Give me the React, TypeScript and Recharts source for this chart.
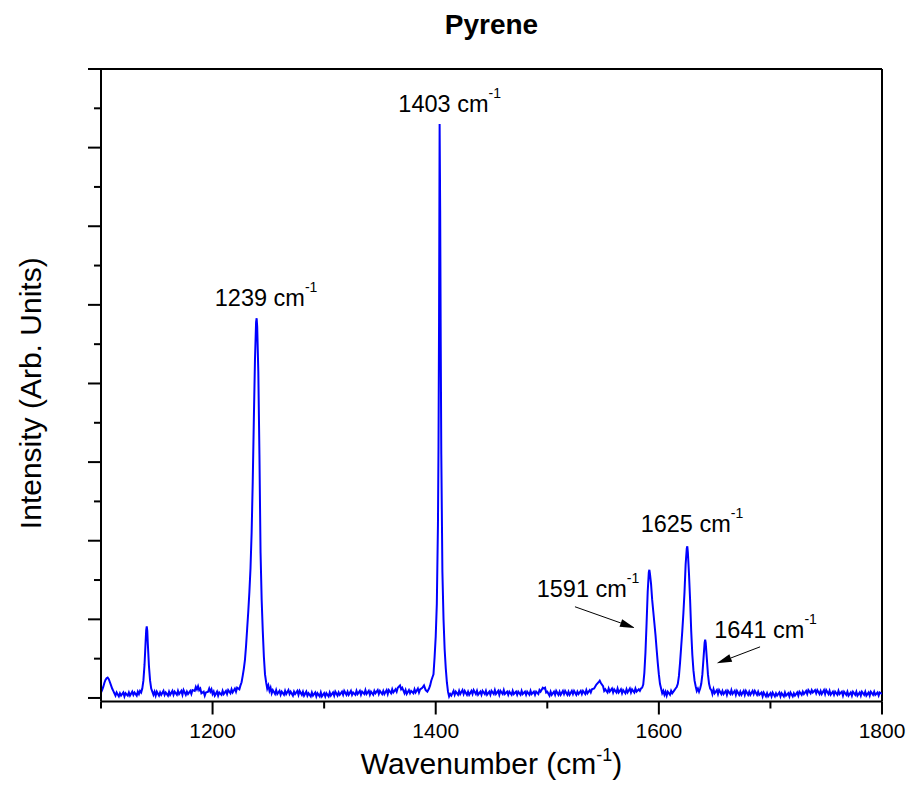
import { LineChart, Line, XAxis, YAxis, ReferenceLine, ReferenceDot } from 'recharts'

const FONT = '"Liberation Sans", Arial, sans-serif'

// axis ticks
const xTicks = [1100, 1200, 1300, 1400, 1500, 1600, 1700, 1800]
const xTickLabels = [1200, 1400, 1600, 1800]
const yTicks = [0, 0.5, 1, 1.5, 2, 2.5, 3, 3.5, 4, 4.5, 5, 5.5, 6, 6.5, 7, 7.5, 8]
const yMajorTicks = [0, 1, 2, 3, 4, 5, 6, 7, 8]

// Raman spectrum: [wavenumber, intensity]
const spectrum: [number, number][] = [
  // start + small band ~1106
  [1100, 0.07], [1101, 0.1], [1102, 0.14], [1103, 0.19], [1104, 0.23], [1105, 0.25], [1106, 0.26],
  [1107, 0.24], [1108, 0.2], [1109, 0.16], [1110, 0.12], [1111, 0.09], [1112, 0.06], [1113, 0.03],
  [1114, 0.07], [1116, 0.02], [1117, 0.06], [1118, 0.03], [1120, 0.07], [1121, 0.02], [1122, 0.06],
  [1124, 0.03], [1125, 0.07], [1126, 0.03], [1128, 0.08], [1129, 0.04], [1130, 0.07], [1132, 0.03],
  [1133, 0.08], [1134, 0.05], [1135, 0.09], [1136, 0.07],
  // 1141 band
  [1137, 0.12], [1138, 0.22], [1139, 0.42], [1140, 0.72], [1140.5, 0.86], [1141, 0.91], [1141.5, 0.85],
  [1142, 0.68], [1143, 0.4], [1144, 0.22], [1145, 0.12], [1146, 0.08], [1147, 0.04],
  [1148, 0.08], [1149, 0.03], [1150, 0.08], [1152, 0.03], [1153, 0.07], [1154, 0.04], [1156, 0.09],
  [1157, 0.04], [1158, 0.07], [1160, 0.03], [1161, 0.08], [1162, 0.04], [1164, 0.09], [1165, 0.04],
  [1166, 0.08], [1168, 0.04], [1169, 0.09], [1170, 0.05], [1172, 0.09], [1173, 0.04], [1174, 0.1],
  [1176, 0.04], [1177, 0.08], [1178, 0.05], [1180, 0.09], [1181, 0.05], [1182, 0.1], [1184, 0.09],
  [1185, 0.14], [1186, 0.11], [1187, 0.15], [1188, 0.1], [1189, 0.12], [1190, 0.06], [1192, 0.08],
  [1193, 0.03], [1194, 0.07], [1196, 0.08], [1197, 0.12], [1198, 0.08], [1199, 0.11], [1200, 0.05],
  [1201, 0.08], [1202, 0.03], [1204, 0.08], [1205, 0.03], [1206, 0.07], [1208, 0.04], [1209, 0.09],
  [1210, 0.05], [1212, 0.09], [1213, 0.05], [1214, 0.1], [1216, 0.06], [1217, 0.11], [1218, 0.07],
  [1220, 0.12], [1221, 0.08], [1222, 0.13], [1224, 0.11],
  // 1239 band
  [1225, 0.16], [1226, 0.2], [1227, 0.28], [1228, 0.37], [1229, 0.48], [1230, 0.66], [1231, 0.88],
  [1232, 1.1], [1233, 1.35], [1234, 1.65], [1235, 2.1], [1236, 2.75], [1237, 3.55], [1238, 4.3],
  [1239, 4.78], [1239.5, 4.83], [1240, 4.72], [1241, 4.15], [1242, 3.1], [1243, 1.85], [1244, 1.25],
  [1245, 0.85], [1246, 0.52], [1247, 0.3], [1248, 0.2], [1249, 0.12], [1250, 0.16], [1251, 0.09],
  [1252, 0.13], [1253, 0.06], [1254, 0.1], [1256, 0.05], [1257, 0.1], [1258, 0.05], [1260, 0.09],
  [1261, 0.04], [1262, 0.08], [1264, 0.04], [1265, 0.09], [1266, 0.05], [1268, 0.1], [1269, 0.05],
  [1270, 0.08], [1272, 0.03], [1273, 0.08], [1274, 0.05], [1276, 0.09], [1277, 0.04], [1278, 0.09],
  [1280, 0.04], [1281, 0.08], [1282, 0.03], [1284, 0.08], [1285, 0.03], [1286, 0.06], [1288, 0.02],
  [1289, 0.07], [1290, 0.03], [1292, 0.07], [1293, 0.02], [1294, 0.06], [1296, 0.02], [1297, 0.07],
  [1298, 0.02], [1300, 0.06], [1301, 0.02], [1302, 0.06], [1304, 0.02], [1305, 0.07], [1306, 0.03],
  [1308, 0.07], [1309, 0.03], [1310, 0.08], [1312, 0.03], [1313, 0.07], [1314, 0.04], [1316, 0.08],
  [1317, 0.04], [1318, 0.09], [1320, 0.04], [1321, 0.08], [1322, 0.04], [1324, 0.09], [1325, 0.04],
  [1326, 0.07], [1328, 0.04], [1329, 0.09], [1330, 0.05], [1332, 0.09], [1333, 0.04], [1334, 0.08],
  [1336, 0.05], [1337, 0.1], [1338, 0.05], [1340, 0.09], [1341, 0.04], [1342, 0.08], [1344, 0.04],
  [1345, 0.09], [1346, 0.06], [1348, 0.1], [1349, 0.05], [1350, 0.09], [1352, 0.05], [1353, 0.09],
  [1354, 0.05], [1356, 0.1], [1357, 0.05], [1358, 0.1], [1360, 0.06], [1361, 0.11], [1362, 0.07],
  [1364, 0.11], [1365, 0.08], [1366, 0.13], [1368, 0.16], [1369, 0.11], [1370, 0.13], [1372, 0.06],
  [1373, 0.1], [1374, 0.05], [1376, 0.1], [1377, 0.06], [1378, 0.09], [1380, 0.06], [1381, 0.11],
  [1382, 0.07], [1384, 0.12], [1385, 0.07], [1386, 0.11], [1388, 0.13], [1389.5, 0.16], [1391, 0.1],
  [1392.5, 0.08],
  // 1403 band
  [1394, 0.12], [1395, 0.16], [1396, 0.22], [1397, 0.26], [1398, 0.3], [1399, 0.52], [1400, 0.78],
  [1401, 1.2], [1402, 2.2], [1402.5, 3.2], [1403, 4.8], [1403.5, 7.3], [1404, 6.2], [1404.5, 4.5],
  [1405, 3.1], [1406, 1.6], [1407, 1.0], [1408, 0.62], [1409, 0.38], [1410, 0.2], [1411, 0.08],
  [1412, 0.02], [1413, 0.05], [1414, 0.03],
  [1416, 0.09], [1417, 0.04], [1418, 0.08], [1420, 0.04], [1421, 0.09], [1422, 0.05], [1424, 0.1],
  [1425, 0.05], [1426, 0.09], [1428, 0.04], [1429, 0.08], [1430, 0.04], [1432, 0.09], [1433, 0.05],
  [1434, 0.1], [1436, 0.05], [1437, 0.09], [1438, 0.04], [1440, 0.08], [1441, 0.04], [1442, 0.09],
  [1444, 0.05], [1445, 0.09], [1446, 0.04], [1448, 0.08], [1449, 0.04], [1450, 0.09], [1452, 0.05],
  [1453, 0.1], [1454, 0.05], [1456, 0.09], [1457, 0.04], [1458, 0.09], [1460, 0.05], [1461, 0.1],
  [1462, 0.05], [1464, 0.08], [1465, 0.04], [1466, 0.08], [1468, 0.04], [1469, 0.09], [1470, 0.05],
  [1472, 0.08], [1473, 0.04], [1474, 0.08], [1476, 0.04], [1477, 0.09], [1478, 0.05], [1480, 0.08],
  [1481, 0.04], [1482, 0.08], [1484, 0.04], [1485, 0.09], [1486, 0.05], [1488, 0.08], [1489, 0.04],
  [1490, 0.08], [1492, 0.05], [1493, 0.1], [1494, 0.08], [1496, 0.13], [1497, 0.12], [1498, 0.13],
  [1499, 0.07], [1500, 0.08], [1502, 0.03], [1503, 0.08], [1504, 0.04], [1506, 0.08], [1507, 0.04],
  [1508, 0.09], [1510, 0.04], [1511, 0.08], [1512, 0.04], [1514, 0.09], [1515, 0.05], [1516, 0.09],
  [1518, 0.04], [1519, 0.08], [1520, 0.04], [1522, 0.09], [1523, 0.05], [1524, 0.09], [1526, 0.04],
  [1527, 0.08], [1528, 0.05], [1530, 0.09], [1531, 0.05], [1532, 0.09], [1534, 0.05], [1535, 0.1],
  [1536, 0.06], [1538, 0.1], [1539, 0.07], [1540, 0.11], [1542, 0.12], [1544, 0.17], [1546, 0.2],
  [1547, 0.22], [1548, 0.19], [1550, 0.15], [1551, 0.09], [1552, 0.11], [1554, 0.07], [1555, 0.12],
  [1556, 0.08], [1558, 0.12], [1559, 0.07], [1560, 0.11], [1562, 0.07], [1563, 0.12], [1564, 0.07],
  [1566, 0.11], [1567, 0.06], [1568, 0.1], [1570, 0.06], [1571, 0.11], [1572, 0.07], [1574, 0.12],
  [1575, 0.07], [1576, 0.11], [1578, 0.07], [1579, 0.12], [1580, 0.08], [1582, 0.11], [1583, 0.09],
  [1584, 0.12],
  // 1591 band
  [1585, 0.13], [1586, 0.17], [1587, 0.32], [1588, 0.58], [1589, 0.95], [1590, 1.35], [1591, 1.6],
  [1591.5, 1.63], [1592, 1.58], [1593, 1.45], [1594, 1.25], [1595, 1.1], [1596, 0.95], [1597, 0.8],
  [1598, 0.62], [1599, 0.45], [1600, 0.3], [1601, 0.18], [1602, 0.12], [1603, 0.06], [1604, 0.09],
  [1605, 0.04], [1606, 0.08], [1607, 0.03], [1608, 0.08], [1610, 0.04], [1611, 0.09], [1612, 0.06],
  [1614, 0.1],
  // 1625 band
  [1615, 0.12], [1616, 0.14], [1617, 0.18], [1618, 0.28], [1619, 0.45], [1620, 0.65], [1621, 0.85],
  [1622, 1.08], [1623, 1.35], [1624, 1.7], [1625, 1.9], [1625.5, 1.93], [1626, 1.85], [1627, 1.58],
  [1628, 1.25], [1629, 0.85], [1630, 0.55], [1631, 0.35], [1632, 0.22], [1633, 0.15], [1634, 0.09],
  [1635, 0.12], [1636, 0.08],
  // 1641 band
  [1637, 0.12], [1638, 0.18], [1639, 0.3], [1640, 0.5], [1641, 0.7], [1641.5, 0.74], [1642, 0.7],
  [1643, 0.5], [1644, 0.3], [1645, 0.18], [1646, 0.12], [1647, 0.1], [1648, 0.05],
  [1649, 0.11], [1650, 0.06], [1652, 0.1], [1653, 0.05], [1654, 0.1], [1656, 0.05], [1657, 0.09],
  [1658, 0.05], [1660, 0.09], [1661, 0.04], [1662, 0.09], [1664, 0.05], [1665, 0.1], [1666, 0.05],
  [1668, 0.09], [1669, 0.04], [1670, 0.09], [1672, 0.04], [1673, 0.08], [1674, 0.04], [1676, 0.09],
  [1677, 0.04], [1678, 0.09], [1680, 0.04], [1681, 0.08], [1682, 0.04], [1684, 0.09], [1685, 0.05],
  [1686, 0.09], [1688, 0.04], [1689, 0.08], [1690, 0.04], [1692, 0.07], [1693, 0.02], [1694, 0.07],
  [1696, 0.02], [1697, 0.06], [1698, 0.02], [1700, 0.06], [1701, 0.02], [1702, 0.07], [1704, 0.02],
  [1705, 0.06], [1706, 0.03], [1708, 0.07], [1709, 0.02], [1710, 0.06], [1712, 0.02], [1713, 0.07],
  [1714, 0.03], [1716, 0.06], [1717, 0.02], [1718, 0.07], [1720, 0.02], [1721, 0.06], [1722, 0.03],
  [1724, 0.07], [1725, 0.03], [1726, 0.08], [1728, 0.04], [1729, 0.08], [1730, 0.05], [1732, 0.09],
  [1733, 0.05], [1734, 0.1], [1736, 0.06], [1737, 0.1], [1738, 0.07], [1740, 0.1], [1741, 0.06],
  [1742, 0.1], [1744, 0.05], [1745, 0.09], [1746, 0.05], [1748, 0.1], [1749, 0.05], [1750, 0.1],
  [1752, 0.05], [1753, 0.09], [1754, 0.04], [1756, 0.08], [1757, 0.04], [1758, 0.08], [1760, 0.04],
  [1761, 0.09], [1762, 0.05], [1764, 0.08], [1765, 0.03], [1766, 0.08], [1768, 0.04], [1769, 0.08],
  [1770, 0.03], [1772, 0.07], [1773, 0.03], [1774, 0.08], [1776, 0.04], [1777, 0.08], [1778, 0.03],
  [1780, 0.07], [1781, 0.03], [1782, 0.08], [1784, 0.04], [1785, 0.08], [1786, 0.03], [1788, 0.07],
  [1789, 0.03], [1790, 0.08], [1792, 0.04], [1793, 0.08], [1794, 0.04], [1796, 0.07], [1797, 0.03],
  [1798, 0.07], [1800, 0.05],
]

// peak annotations (text start, baseline) in data units
const peakLabels = [
  { text: '1239', wn: 1202, y: 4.99 },
  { text: '1403', wn: 1366.5, y: 7.45 },
  { text: '1591', wn: 1490.5, y: 1.29 },
  { text: '1625', wn: 1583.7, y: 2.11 },
  { text: '1641', wn: 1649.7, y: 0.76 },
]

const arrows = [
  { x1: 1524.8, y1: 1.16, x2: 1578.6, y2: 0.89 },
  { x1: 1690.7, y1: 0.65, x2: 1651.9, y2: 0.44 },
]

const chartData = spectrum.map(([wn, intensity]) => ({ wn, intensity }))

const XTick = (props: any) => {
  const { x, y, payload } = props
  const major = xTickLabels.includes(payload.value)
  return (
    <g>
      <line x1={x} x2={x} y1={y} y2={y + (major ? 13 : 7)} stroke="#000" strokeWidth={2} />
      {major && (
        <text x={x} y={y + 36} textAnchor="middle" fontSize={21} fontFamily={FONT} fill="#000">
          {payload.value}
        </text>
      )}
    </g>
  )
}

const YTick = (props: any) => {
  const { x, y, payload } = props
  const major = yMajorTicks.includes(payload.value)
  return <line x1={x} x2={x - (major ? 13 : 7)} y1={y} y2={y} stroke="#000" strokeWidth={2} />
}

const ArrowShape = (props: any) => {
  const { x1, y1, x2, y2 } = props
  const ang = Math.atan2(y2 - y1, x2 - x1)
  const len = 15
  const hw = 4
  const bx = x2 - len * Math.cos(ang)
  const by = y2 - len * Math.sin(ang)
  const px = -Math.sin(ang) * hw
  const py = Math.cos(ang) * hw
  return (
    <g>
      <line x1={x1} y1={y1} x2={bx} y2={by} stroke="#000" strokeWidth={1} />
      <polygon points={`${x2},${y2} ${bx + px},${by + py} ${bx - px},${by - py}`} fill="#000" />
    </g>
  )
}

const PeakText = (text: string) => (props: any) => (
  <text x={props.cx} y={props.cy} fontSize={23.5} fontFamily={FONT} fill="#000">
    <tspan>{text} cm</tspan>
    <tspan fontSize={14} dy={-14}>-1</tspan>
  </text>
)

export default function App() {
  return (
    <div style={{ position: 'absolute', left: 0, top: 0, width: 914, height: 807, background: '#fff' }}>
      <div
        style={{
          position: 'absolute',
          left: 101,
          width: 781,
          top: 9,
          textAlign: 'center',
          fontFamily: FONT,
          fontWeight: 'bold',
          fontSize: 28,
          color: '#000',
        }}
      >
        Pyrene
      </div>
      <LineChart width={914} height={807} data={chartData} margin={{ top: 69, right: 32, bottom: 55.5, left: 0 }}>
        <XAxis
          dataKey="wn"
          type="number"
          domain={[1100, 1800]}
          ticks={xTicks}
          interval={0}
          allowDataOverflow
          height={50}
          tickSize={0}
          tickMargin={0}
          tickLine={false}
          tick={XTick}
          axisLine={{ stroke: '#000', strokeWidth: 2 }}
          label={(p: any) => {
            const { x, y, width } = p.viewBox
            return (
              <text x={x + width / 2} y={y + 72} textAnchor="middle" fontSize={30} fontFamily={FONT} fill="#000">
                Wavenumber (cm<tspan fontSize={18} dy={-13}>-1</tspan>
                <tspan dy={13}>)</tspan>
              </text>
            )
          }}
        />
        <YAxis
          type="number"
          domain={[-0.045, 8]}
          ticks={yTicks}
          interval={0}
          allowDataOverflow
          width={101}
          tickSize={0}
          tickMargin={0}
          tickLine={false}
          tick={YTick}
          axisLine={{ stroke: '#000', strokeWidth: 2 }}
          label={(p: any) => {
            const { y, height } = p.viewBox
            const cy = y + height / 2 + 8
            return (
              <text
                x={41}
                y={cy}
                transform={`rotate(-90, 41, ${cy})`}
                textAnchor="middle"
                fontSize={30}
                fontFamily={FONT}
                fill="#000"
              >
                Intensity (Arb. Units)
              </text>
            )
          }}
        />
        <ReferenceLine y={8} stroke="#000" strokeWidth={2} />
        <ReferenceLine x={1800} stroke="#000" strokeWidth={2} />
        <Line
          type="linear"
          dataKey="intensity"
          stroke="#0000ff"
          strokeWidth={2}
          dot={false}
          isAnimationActive={false}
        />
        {arrows.map((a, i) => (
          <ReferenceLine
            key={i}
            segment={[
              { x: a.x1, y: a.y1 },
              { x: a.x2, y: a.y2 },
            ]}
            shape={ArrowShape}
            ifOverflow="visible"
          />
        ))}
        {peakLabels.map((l) => (
          <ReferenceDot key={l.text} x={l.wn} y={l.y} r={0} shape={PeakText(l.text)} ifOverflow="visible" />
        ))}
      </LineChart>
    </div>
  )
}
